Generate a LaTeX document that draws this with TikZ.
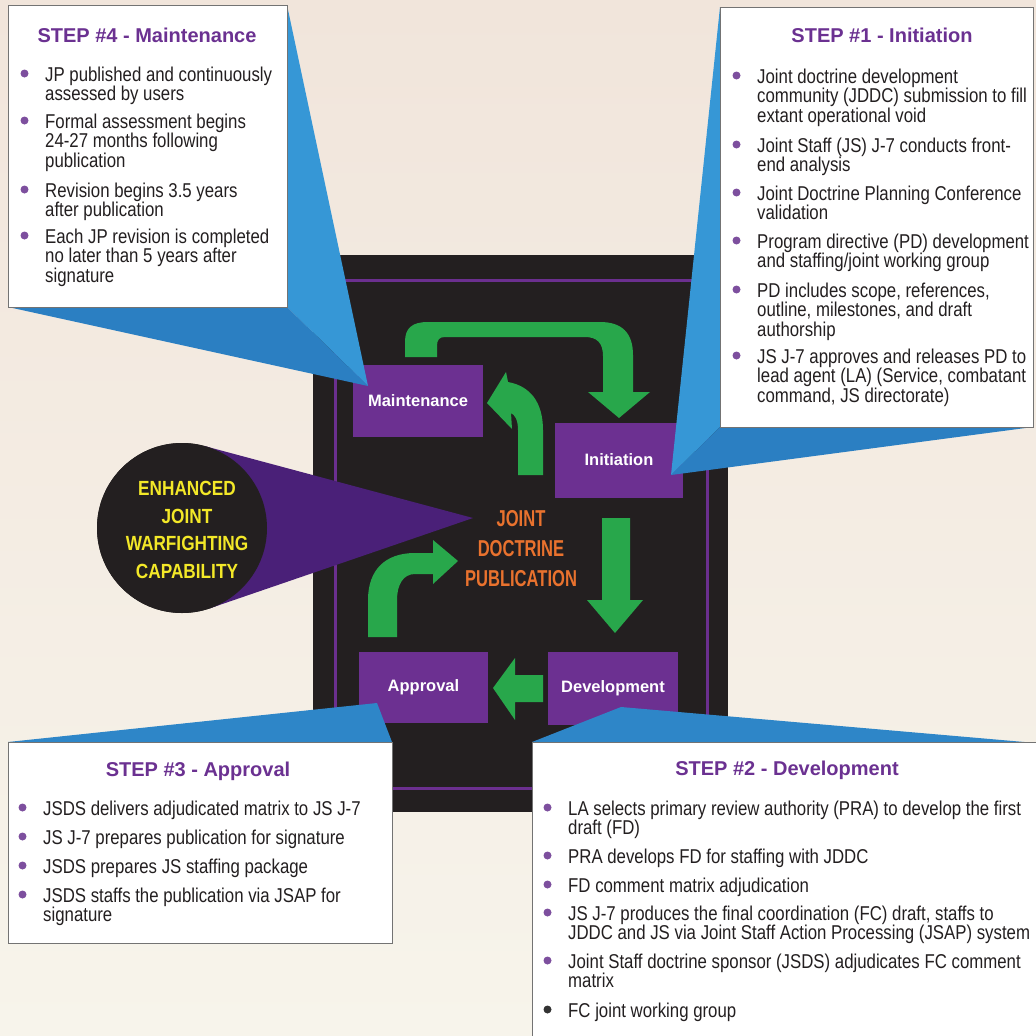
\documentclass[tikz,border=0pt]{standalone}
\usepackage{fontspec}
\setmainfont{Liberation Sans}
\newfontfamily\narrowfont[FakeStretch=0.84]{Liberation Sans}
\newfontfamily\condfont[FakeStretch=0.72]{Liberation Sans}
\usetikzlibrary{calc}
\definecolor{bgtop}{RGB}{241,229,219}
\definecolor{bgmid}{RGB}{243,236,226}
\definecolor{bgbot}{RGB}{247,244,235}
\definecolor{blackbg}{RGB}{35,31,32}
\definecolor{frameP}{RGB}{107,47,143}
\definecolor{boxP}{RGB}{108,48,145}
\definecolor{wedgeP}{RGB}{74,32,120}
\definecolor{blueL}{RGB}{54,151,214}
\definecolor{blueD}{RGB}{43,127,194}
\definecolor{blueM}{RGB}{46,134,200}
\definecolor{arrowG}{RGB}{40,167,75}
\definecolor{orangeT}{RGB}{233,114,46}
\definecolor{yellowT}{RGB}{243,232,40}
\definecolor{headP}{RGB}{107,49,145}
\definecolor{bulletP}{RGB}{125,79,158}
\definecolor{txt}{RGB}{35,31,32}
\tikzset{
  stepbox/.style={draw=black!55, line width=0.8pt, fill=white, rectangle, anchor=north west, inner sep=0, outer sep=0},
  pbox/.style={fill=boxP, rectangle, inner sep=0, outer sep=0, text=white, font=\bfseries\fontsize{16.5}{18}\selectfont},
  heading/.style={anchor=base, inner sep=0, text=headP, font=\bfseries\fontsize{20}{22}\selectfont},
  itemtext/.style={anchor=base west, inner sep=0, text=txt, font=\narrowfont\fontsize{20}{19.5}\selectfont},
  garrow/.style={fill=arrowG},
}
\newcommand{\bitem}[5]{%
  \fill[#4] (#2-20.5,#3-7.5) circle (4);
  \node[itemtext] (#1) at (#2,#3) {\parbox[t]{480pt}{#5}};
}
\begin{document}
\begin{tikzpicture}[x=1pt,y=-1pt]
\useasboundingbox (0,0) rectangle (1036,1036);
% background
\shade[top color=bgtop, middle color=bgmid, bottom color=bgbot] (0,0) rectangle (1036,1036);
% black square and purple frame
\fill[blackbg] (313,255) rectangle (728,812);
\draw[frameP, line width=3pt] (335,280) rectangle (707,788);

% purple boxes
\node[pbox, minimum width=130pt, minimum height=72pt] (maint) at (418,401) {Maintenance};
\node[pbox, minimum width=128pt, minimum height=75pt] (init) at (619,460) {Initiation};
\node[pbox, minimum width=129pt, minimum height=71pt] (appr) at (423.5,687.5) {Approval};
\node[pbox, minimum width=130pt, minimum height=73pt] (devel) at (613,688.5) {Development};

% goal circle with purple wedge
\coordinate (goaltip) at (473,518);
\node[circle, fill=blackbg, minimum size=170pt, inner sep=0, outer sep=0] (goal) at (182,528) {};
\fill[wedgeP] (goaltip) -- (tangent cs:node=goal,point={(goaltip)},solution=1) -- (goal.center) -- (tangent cs:node=goal,point={(goaltip)},solution=2) -- cycle;
\node[circle, fill=blackbg, minimum size=170pt, inner sep=0, outer sep=0] (goalc) at (182,528) {};
\node[align=center, inner sep=0, text=yellowT, font=\narrowfont\bfseries\fontsize{20.5}{27.7}\selectfont] (goaltext) at (187,530) {ENHANCED\\JOINT\\WARFIGHTING\\CAPABILITY};

% centre text
\node[align=center, inner sep=0, text=orangeT, font=\condfont\bfseries\fontsize{23}{30}\selectfont] (jdp) at (521,549) {JOINT\\DOCTRINE\\PUBLICATION};

% green arrows
% Maintenance -> Initiation
\fill[garrow] (405,357) -- (405,342) .. controls (405,328) and (412,322) .. (428,322) -- (600,322) .. controls (622,322) and (633,333) .. (633,355) -- (633,392) -- (650,392) -- (619,418) -- (588,392) -- (603,392) -- (603,356) .. controls (603,343) and (597,337) .. (585,337) -- (445,337) .. controls (439,337) and (437,340) .. (437,346) -- (437,357) -- cycle;
% Initiation -> Development
\fill[garrow] (602,518) -- (630,518) -- (630,600) -- (643,600) -- (615,633) -- (587,600) -- (602,600) -- cycle;
% Development -> Approval
\fill[garrow] (543,675) -- (543,702) -- (515,702) -- (515,720) -- (493,688) -- (515,658) -- (515,675) -- cycle;
% Approval -> publication
\fill[garrow] (368,637) -- (368,600) .. controls (368,570) and (385,553) .. (415,553) -- (433,553) -- (433,540) -- (458,561) -- (433,584) -- (433,574) -- (415,574) .. controls (403,574) and (397,585) .. (397,600) -- (397,637) -- cycle;
% publication -> Maintenance
\fill[garrow] (518,475) -- (543,475) -- (543,430) .. controls (543,402) and (530,386) .. (508,382) -- (506,372) -- (487,403) -- (512,429) -- (511,413) .. controls (515,415) and (518,420) .. (518,430) -- cycle;

% step boxes geometry
\node[stepbox, minimum width=279pt, minimum height=302pt] (box4) at (8,5) {};
\node[stepbox, minimum width=313pt, minimum height=420pt] (box1) at (720,7) {};
\node[stepbox, minimum width=384pt, minimum height=201pt] (box3) at (8,742) {};
\node[stepbox, minimum width=520pt, minimum height=310pt] (box2) at (532,742) {};

% blue wedges
\coordinate (tip4) at (368,386);
\coordinate (tip1) at (671,475);
\coordinate (tip3) at (377,703);
\coordinate (tip2) at (621,707);
\fill[blueL] (box4.north east) -- (tip4) -- (box4.south east) -- cycle;
\fill[blueD] (box4.south west) -- (box4.south east) -- (tip4) -- cycle;
\fill[blueL] (box1.north west) -- (tip1) -- (box1.south west) -- cycle;
\fill[blueD] (box1.south west) -- (tip1) -- (box1.south east) -- cycle;
\fill[blueM] (box3.north west) -- (tip3) -- (box3.north east) -- cycle;
\fill[blueM] (box2.north west) -- (tip2) -- ($(box2.north west)+(504,1)$) -- cycle;

% redraw boxes on top of wedges
\node[stepbox, minimum width=279pt, minimum height=302pt] (box4b) at (8,5) {};
\node[stepbox, minimum width=313pt, minimum height=420pt] (box1b) at (720,7) {};
\node[stepbox, minimum width=384pt, minimum height=201pt] (box3b) at (8,742) {};
\node[stepbox, minimum width=520pt, minimum height=310pt] (box2b) at (532,742) {};

% STEP 4
\node[heading] (h4) at (147,42) {STEP \#4 - Maintenance};
\bitem{s4a}{45}{81}{bulletP}{JP published and continuously\\assessed by users}
\bitem{s4b}{45}{128}{bulletP}{Formal assessment begins\\24-27 months following\\publication}
\bitem{s4c}{45}{197}{bulletP}{Revision begins 3.5 years\\after publication}
\bitem{s4d}{45}{243}{bulletP}{Each JP revision is completed\\no later than 5 years after\\signature}

% STEP 1
\node[heading] (h1) at (882,42) {STEP \#1 - Initiation};
\bitem{s1a}{757}{83}{bulletP}{Joint doctrine development\\community (JDDC) submission to fill\\extant operational void}
\bitem{s1b}{757}{152}{bulletP}{Joint Staff (JS) J-7 conducts front-\\end analysis}
\bitem{s1c}{757}{200}{bulletP}{Joint Doctrine Planning Conference\\validation}
\bitem{s1d}{757}{248}{bulletP}{Program directive (PD) development\\and staffing/joint working group}
\bitem{s1e}{757}{297}{bulletP}{PD includes scope, references,\\outline, milestones, and draft\\authorship}
\bitem{s1f}{757}{363}{bulletP}{JS J-7 approves and releases PD to\\lead agent (LA) (Service, combatant\\command, JS directorate)}

% STEP 3
\node[heading] (h3) at (198,776) {STEP \#3 - Approval};
\bitem{s3a}{43}{815}{bulletP}{JSDS delivers adjudicated matrix to JS J-7}
\bitem{s3b}{43}{844}{bulletP}{JS J-7 prepares publication for signature}
\bitem{s3c}{43}{873}{bulletP}{JSDS prepares JS staffing package}
\bitem{s3d}{43}{902}{bulletP}{JSDS staffs the publication via JSAP for\\signature}

% STEP 2
\node[heading] (h2) at (787,775) {STEP \#2 - Development};
\bitem{s2a}{568}{815}{bulletP}{LA selects primary review authority (PRA) to develop the first\\draft (FD)}
\bitem{s2b}{568}{863}{bulletP}{PRA develops FD for staffing with JDDC}
\bitem{s2c}{568}{892}{bulletP}{FD comment matrix adjudication}
\bitem{s2d}{568}{920}{bulletP}{JS J-7 produces the final coordination (FC) draft, staffs to\\JDDC and JS via Joint Staff Action Processing (JSAP) system}
\bitem{s2e}{568}{968}{bulletP}{Joint Staff doctrine sponsor (JSDS) adjudicates FC comment\\matrix}
\bitem{s2f}{568}{1017}{black!80}{FC joint working group}
\end{tikzpicture}
\end{document}
